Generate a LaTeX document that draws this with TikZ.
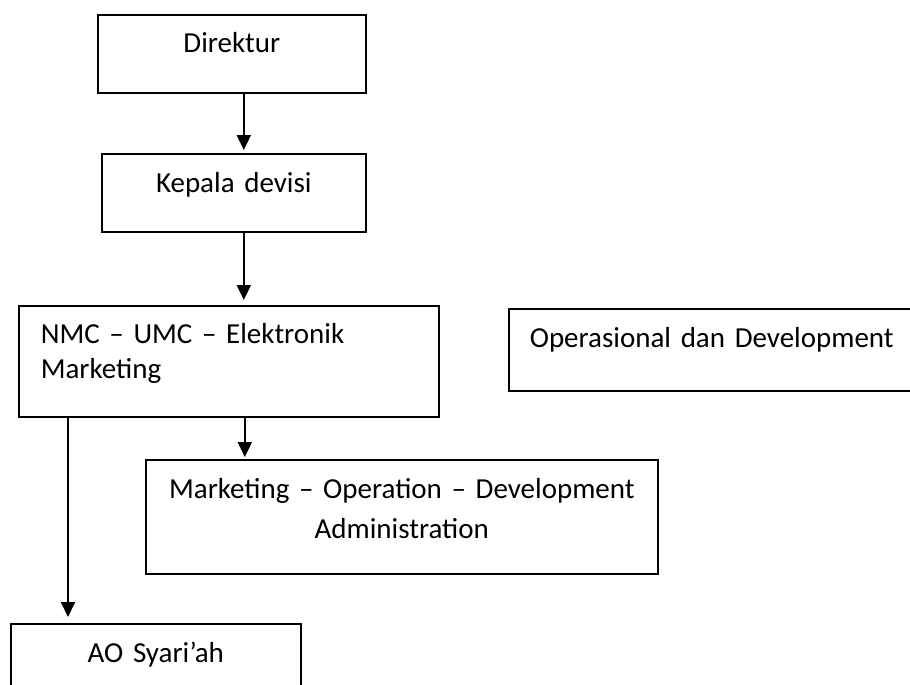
\documentclass[tikz,border=0pt]{standalone}
\usepackage{fontspec}
\setmainfont{Carlito}[WordSpace={0.7}]
\usetikzlibrary{arrows.meta}

\tikzset{
  kotak/.style={draw, line width=1.6pt, inner xsep=0pt, inner ysep=0pt, anchor=north west,
    align=center, font=\fontsize{29}{35}\selectfont},
  panah/.style={-{Triangle[width=14pt,length=15pt]}, line width=2pt},
}

\begin{document}
\begin{tikzpicture}[x=1pt,y=-1pt]
    \useasboundingbox (0,0) rectangle (910,685);
    \clip (0,0) rectangle (910,685);
    \node[kotak, text width=268pt, text height=38pt, text depth=40pt] (direktur) at (97,14) {Direktur};
    \node[kotak, text width=264pt, text height=39pt, text depth=39pt] (kepala) at (101,153) {Kepala devisi};
    \node[kotak, align=left, inner xsep=22pt, text width=376pt, text height=38pt, text depth=73pt] (nmc) at (18,305)
        {NMC -- UMC -- Elektronik\\Marketing};
    \node[kotak, align=left, inner xsep=21pt, text width=400pt, text height=39pt, text depth=43pt] (ops) at (508,308)
        {Operasional dan Development};
    \node[kotak, text width=512pt, text height=39pt, text depth=75pt, font=\fontsize{29}{40}\selectfont] (mod) at (145,459)
        {Marketing -- Operation -- Development\\Administration};
    \node[kotak, text width=290pt, text height=39pt, text depth=80pt] (ao) at (10,623) {AO Syari’ah};
    \draw[panah, shorten >=3pt] ([xshift=12pt]direktur.south) -- ([xshift=12pt]direktur.south |- kepala.north);
    \draw[panah, shorten >=5pt] ([xshift=10pt]kepala.south) -- ([xshift=10pt]kepala.south |- nmc.north);
    \draw[panah, shorten >=2pt] ([xshift=16pt]nmc.south) -- ([xshift=16pt]nmc.south |- mod.north);
    \draw[panah, shorten >=6pt] ([xshift=50pt]nmc.south west) -- ([xshift=50pt]nmc.south west |- ao.north);
\end{tikzpicture}
\end{document}
